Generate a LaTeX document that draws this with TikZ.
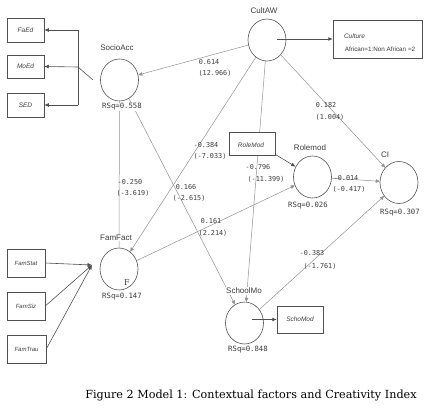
\documentclass[tikz,border=0pt]{standalone}
\usepackage{fontspec}
\setmainfont{DejaVu Serif}
\newfontfamily\lsans{Liberation Sans}
\newfontfamily\lmono{DejaVu Sans Mono}
\usetikzlibrary{arrows.meta,backgrounds,shapes.geometric}
\definecolor{linegray}{HTML}{929292}
\definecolor{edgegray}{HTML}{505050}
\definecolor{txtgray}{HTML}{3C3C3C}
\begin{document}
\begin{tikzpicture}[x=1pt,y=-1pt,
  lv/.style={ellipse,draw=edgegray,line width=0.6pt,minimum width=38pt,minimum height=42pt,inner sep=0pt},
  ind/.style={rectangle,draw=edgegray,line width=0.5pt,fill=white,inner sep=0pt},
  indtext/.style={font=\lsans\itshape\fontsize{6.5}{7}\selectfont,text=txtgray,inner sep=0pt},
  lvname/.style={font=\lsans\fontsize{8}{9}\selectfont,text=txtgray,fill=white,inner sep=0.6pt},
  rsq/.style={font=\lmono\fontsize{7.3}{8}\selectfont,text=txtgray,fill=white,inner sep=0.6pt},
  coef/.style={font=\lmono\fontsize{6.8}{8}\selectfont,text=txtgray,inner sep=0pt},
  pth/.style={draw=linegray,line width=0.5pt,-{Triangle[length=4pt,width=3.6pt]}},
  pthplain/.style={draw=linegray,line width=0.5pt},
  blk/.style={draw=edgegray,line width=0.6pt,-{Latex[length=4.5pt,width=3.8pt]}},
  plain/.style={draw=edgegray,line width=0.6pt}
]
\useasboundingbox (0,0) rectangle (429,410);

% latent variables
\node[lv] (socioacc) at (119.5,80) {};
\node[lv] (cultaw) at (267,40) {};
\node[lv] (rolemod) at (312.5,177) {};
\node[lv] (ci) at (399,182.5) {};
\node[lv] (schoolmo) at (244.5,323) {};
\node[lv] (famfact) at (119,269) {};

% LV names and R squares
\node[lvname] (socioacc-n) at (117,48) {SocioAcc};
\node[rsq] (socioacc-r) at (122,107) {RSq=0.558};
\node[lvname] (cultaw-n) at (264,11) {CultAW};
\node[lvname] (rolemod-n) at (310,148) {Rolemod};
\node[rsq] (rolemod-r) at (308,206) {RSq=0.026};
\node[lvname] (ci-n) at (385,155) {CI};
\node[rsq] (ci-r) at (400,213) {RSq=0.307};
\node[lvname] (schoolmo-n) at (244,291) {SchoolMo};
\node[rsq] (schoolmo-r) at (248,350) {RSq=0.848};
\node[lvname] (famfact-n) at (116,238) {FamFact};
\node[font=\fontsize{8}{9}\selectfont,text=txtgray] (famfact-f) at (127,283) {F};
\node[rsq] (famfact-r) at (122,297) {RSq=0.147};

% indicator boxes
\node[ind,minimum width=37pt,minimum height=24pt] (faed) at (25.5,30) {};
\node[indtext] (faed-t) at (faed) {FaEd};
\node[ind,minimum width=37pt,minimum height=23pt] (moed) at (25.5,66.5) {};
\node[indtext] (moed-t) at (moed) {MoEd};
\node[ind,minimum width=37pt,minimum height=24pt] (sed) at (25.5,105) {};
\node[indtext] (sed-t) at (sed) {SED};
\node[ind,minimum width=89pt,minimum height=38pt] (culture) at (377.5,39) {};
\node[indtext] (culture-t) at (354.5,36) {Culture};
\node[font=\lsans\fontsize{6.3}{7}\selectfont,text=txtgray,inner sep=0pt] (culture-v) at (380,49) {African=1:Non African =2};
\node[ind,minimum width=46pt,minimum height=23pt] (rolebox) at (252,143.5) {};
\node[indtext] (rolebox-t) at (251,145) {RoleMod};
\node[ind,minimum width=46pt,minimum height=27pt] (schomod) at (300,319.5) {};
\node[indtext] (schomod-t) at (schomod) {SchoMod};
\node[ind,minimum width=38pt,minimum height=28pt] (famstat) at (26,263) {};
\node[indtext,font=\lsans\itshape\fontsize{6}{7}\selectfont] (famstat-t) at (famstat) {FamStat};
\node[ind,minimum width=38pt,minimum height=28pt] (famsiz) at (26,306) {};
\node[indtext,font=\lsans\itshape\fontsize{6}{7}\selectfont] (famsiz-t) at (famsiz) {FamSiz};
\node[ind,minimum width=39pt,minimum height=28pt] (famtrau) at (26.5,349) {};
\node[indtext,font=\lsans\itshape\fontsize{6}{7}\selectfont] (famtrau-t) at (famtrau) {FamTrau};

% path coefficients
\node[coef] (c1a) at (209,62) {0.614};
\node[coef] (c1b) at (215,73) {(12.966)};
\node[coef] (c2a) at (130,182) {-0.250};
\node[coef] (c2b) at (133,193) {(-3.619)};
\node[coef] (c3a) at (206,145) {-0.384};
\node[coef] (c3b) at (210,156) {(-7.033)};
\node[coef] (c4a) at (186,187) {0.166};
\node[coef] (c4b) at (189,198) {(-2.615)};
\node[coef] (c5a) at (211,221) {0.161};
\node[coef] (c5b) at (213,233) {(2.214)};
\node[coef] (c6a) at (258,167) {-0.796};
\node[coef] (c6b) at (266,179) {(-11.399)};
\node[coef] (c7a) at (326,105) {0.182};
\node[coef] (c7b) at (330,117) {(1.004)};
\node[coef] (c8a) at (346,178) {-0.014};
\node[coef] (c8b) at (349,189) {(-0.417)};
\node[coef] (c9a) at (312,253) {-0.383};
\node[coef] (c9b) at (320,266) {(-1.761)};

% inner model paths
\begin{pgfonlayer}{background}
\draw[pth] (cultaw) -- (socioacc);
\draw[pthplain] (socioacc) -- (famfact);
\draw[pth] (socioacc) -- (schoolmo);
\draw[pth] (cultaw) -- (famfact);
\draw[pth] (cultaw) -- (schoolmo);
\draw[pth] (cultaw) -- (ci);
\draw[pth] (rolemod) -- (ci);
\draw[pth] (famfact) -- (rolemod);
\draw[pth] (schoolmo) -- (ci);
\end{pgfonlayer}

% outer model connectors
\coordinate (sa-in) at (93,80);
\coordinate (br-m) at (78,67);
\coordinate (br-t) at (78,30);
\coordinate (br-b) at (78,105);
\draw[plain] (sa-in) -- (br-m);
\draw[plain] (br-t) -- (br-b);
\draw[blk] (br-t) -- (faed);
\draw[blk] (br-m) -- (moed.east);
\draw[blk] (br-b) -- (sed);

\coordinate (cw-out) at (277,39);
\draw[blk] (cw-out) -- (culture);
\coordinate (sm-out) at (252,319.5);
\draw[blk] (sm-out) -- (schomod);
\draw[blk] (rolebox.-25) -- (rolemod);

\coordinate (ff-in) at (92,265);
\draw[blk] (famstat.east) -- (ff-in);
\draw[blk] (famsiz.east) -- (ff-in);
\draw[blk] (famtrau.east) -- (ff-in);

% caption
\node[font=\fontsize{11.2}{13}\selectfont,inner sep=0pt] (caption) at (251,395) {Figure 2 Model 1: Contextual factors and Creativity Index};
\end{tikzpicture}
\end{document}
